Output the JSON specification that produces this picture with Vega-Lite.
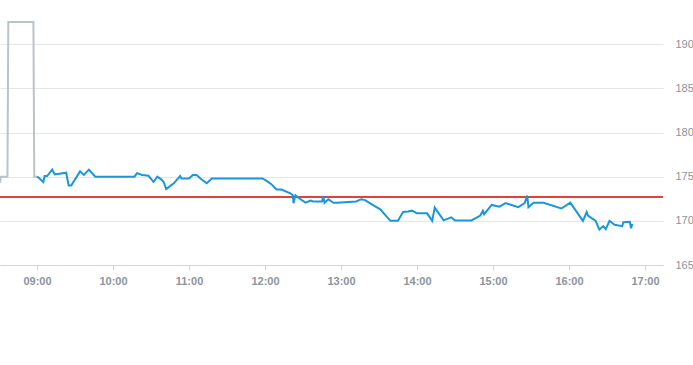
{
  "$schema": "https://vega.github.io/schema/vega-lite/v6.json",
  "width": 663,
  "height": 265,
  "autosize": "none",
  "padding": {"left": 0, "top": 0, "right": 30, "bottom": 100},
  "background": "white",
  "config": {"view": {"stroke": null}},
  "data": {
    "values": [
      {"t": "2024-01-01T08:30:47", "v": 174.3, "s": "pre"},
      {"t": "2024-01-01T08:31:30", "v": 175.0, "s": "pre"},
      {"t": "2024-01-01T08:36:40", "v": 175.0, "s": "pre"},
      {"t": "2024-01-01T08:37:20", "v": 192.5, "s": "pre"},
      {"t": "2024-01-01T08:57:10", "v": 192.5, "s": "pre"},
      {"t": "2024-01-01T08:57:50", "v": 175.0, "s": "pre"},
      {"t": "2024-01-01T09:00:00", "v": 175.0, "s": "pre"},
      {"t": "2024-01-01T09:00:00", "v": 175.0, "s": "main"},
      {"t": "2024-01-01T09:02:00", "v": 174.8, "s": "main"},
      {"t": "2024-01-01T09:05:00", "v": 174.4, "s": "main"},
      {"t": "2024-01-01T09:06:00", "v": 175.07, "s": "main"},
      {"t": "2024-01-01T09:08:00", "v": 175.07, "s": "main"},
      {"t": "2024-01-01T09:12:00", "v": 175.8, "s": "main"},
      {"t": "2024-01-01T09:14:00", "v": 175.25, "s": "main"},
      {"t": "2024-01-01T09:23:00", "v": 175.45, "s": "main"},
      {"t": "2024-01-01T09:25:00", "v": 174.0, "s": "main"},
      {"t": "2024-01-01T09:27:00", "v": 174.0, "s": "main"},
      {"t": "2024-01-01T09:34:00", "v": 175.6, "s": "main"},
      {"t": "2024-01-01T09:37:00", "v": 175.2, "s": "main"},
      {"t": "2024-01-01T09:41:00", "v": 175.8, "s": "main"},
      {"t": "2024-01-01T09:46:00", "v": 175.0, "s": "main"},
      {"t": "2024-01-01T10:17:00", "v": 175.0, "s": "main"},
      {"t": "2024-01-01T10:19:00", "v": 175.4, "s": "main"},
      {"t": "2024-01-01T10:23:00", "v": 175.2, "s": "main"},
      {"t": "2024-01-01T10:28:00", "v": 175.1, "s": "main"},
      {"t": "2024-01-01T10:32:00", "v": 174.4, "s": "main"},
      {"t": "2024-01-01T10:35:00", "v": 175.0, "s": "main"},
      {"t": "2024-01-01T10:38:00", "v": 174.7, "s": "main"},
      {"t": "2024-01-01T10:40:00", "v": 174.4, "s": "main"},
      {"t": "2024-01-01T10:42:00", "v": 173.6, "s": "main"},
      {"t": "2024-01-01T10:48:00", "v": 174.25, "s": "main"},
      {"t": "2024-01-01T10:53:00", "v": 175.07, "s": "main"},
      {"t": "2024-01-01T10:54:00", "v": 174.8, "s": "main"},
      {"t": "2024-01-01T11:00:00", "v": 174.8, "s": "main"},
      {"t": "2024-01-01T11:03:00", "v": 175.2, "s": "main"},
      {"t": "2024-01-01T11:06:00", "v": 175.2, "s": "main"},
      {"t": "2024-01-01T11:09:00", "v": 174.8, "s": "main"},
      {"t": "2024-01-01T11:14:00", "v": 174.25, "s": "main"},
      {"t": "2024-01-01T11:18:00", "v": 174.8, "s": "main"},
      {"t": "2024-01-01T11:58:00", "v": 174.8, "s": "main"},
      {"t": "2024-01-01T12:01:00", "v": 174.55, "s": "main"},
      {"t": "2024-01-01T12:05:00", "v": 174.15, "s": "main"},
      {"t": "2024-01-01T12:09:00", "v": 173.55, "s": "main"},
      {"t": "2024-01-01T12:13:00", "v": 173.55, "s": "main"},
      {"t": "2024-01-01T12:20:00", "v": 173.1, "s": "main"},
      {"t": "2024-01-01T12:22:00", "v": 172.9, "s": "main"},
      {"t": "2024-01-01T12:22:30", "v": 172.0, "s": "main"},
      {"t": "2024-01-01T12:24:00", "v": 172.9, "s": "main"},
      {"t": "2024-01-01T12:28:00", "v": 172.45, "s": "main"},
      {"t": "2024-01-01T12:32:00", "v": 172.05, "s": "main"},
      {"t": "2024-01-01T12:36:00", "v": 172.3, "s": "main"},
      {"t": "2024-01-01T12:38:00", "v": 172.2, "s": "main"},
      {"t": "2024-01-01T12:45:00", "v": 172.2, "s": "main"},
      {"t": "2024-01-01T12:46:00", "v": 172.8, "s": "main"},
      {"t": "2024-01-01T12:47:00", "v": 172.05, "s": "main"},
      {"t": "2024-01-01T12:50:00", "v": 172.45, "s": "main"},
      {"t": "2024-01-01T12:54:00", "v": 172.05, "s": "main"},
      {"t": "2024-01-01T12:57:00", "v": 172.05, "s": "main"},
      {"t": "2024-01-01T13:12:00", "v": 172.2, "s": "main"},
      {"t": "2024-01-01T13:16:00", "v": 172.45, "s": "main"},
      {"t": "2024-01-01T13:19:00", "v": 172.35, "s": "main"},
      {"t": "2024-01-01T13:25:00", "v": 171.8, "s": "main"},
      {"t": "2024-01-01T13:31:00", "v": 171.3, "s": "main"},
      {"t": "2024-01-01T13:39:00", "v": 170.0, "s": "main"},
      {"t": "2024-01-01T13:45:00", "v": 170.0, "s": "main"},
      {"t": "2024-01-01T13:49:00", "v": 171.0, "s": "main"},
      {"t": "2024-01-01T13:53:00", "v": 171.05, "s": "main"},
      {"t": "2024-01-01T13:56:00", "v": 171.15, "s": "main"},
      {"t": "2024-01-01T14:00:00", "v": 170.85, "s": "main"},
      {"t": "2024-01-01T14:08:00", "v": 170.85, "s": "main"},
      {"t": "2024-01-01T14:12:00", "v": 170.0, "s": "main"},
      {"t": "2024-01-01T14:14:00", "v": 171.5, "s": "main"},
      {"t": "2024-01-01T14:21:00", "v": 170.05, "s": "main"},
      {"t": "2024-01-01T14:27:00", "v": 170.4, "s": "main"},
      {"t": "2024-01-01T14:30:00", "v": 170.05, "s": "main"},
      {"t": "2024-01-01T14:43:00", "v": 170.05, "s": "main"},
      {"t": "2024-01-01T14:50:00", "v": 170.6, "s": "main"},
      {"t": "2024-01-01T14:52:00", "v": 171.15, "s": "main"},
      {"t": "2024-01-01T14:53:00", "v": 170.75, "s": "main"},
      {"t": "2024-01-01T14:59:00", "v": 171.8, "s": "main"},
      {"t": "2024-01-01T15:05:00", "v": 171.6, "s": "main"},
      {"t": "2024-01-01T15:10:00", "v": 172.0, "s": "main"},
      {"t": "2024-01-01T15:20:00", "v": 171.55, "s": "main"},
      {"t": "2024-01-01T15:25:00", "v": 172.0, "s": "main"},
      {"t": "2024-01-01T15:27:00", "v": 172.85, "s": "main"},
      {"t": "2024-01-01T15:28:00", "v": 171.55, "s": "main"},
      {"t": "2024-01-01T15:32:00", "v": 172.05, "s": "main"},
      {"t": "2024-01-01T15:40:00", "v": 172.05, "s": "main"},
      {"t": "2024-01-01T15:54:00", "v": 171.4, "s": "main"},
      {"t": "2024-01-01T16:01:00", "v": 172.05, "s": "main"},
      {"t": "2024-01-01T16:11:00", "v": 170.0, "s": "main"},
      {"t": "2024-01-01T16:14:00", "v": 171.0, "s": "main"},
      {"t": "2024-01-01T16:15:00", "v": 170.6, "s": "main"},
      {"t": "2024-01-01T16:21:00", "v": 170.0, "s": "main"},
      {"t": "2024-01-01T16:24:00", "v": 169.0, "s": "main"},
      {"t": "2024-01-01T16:27:00", "v": 169.4, "s": "main"},
      {"t": "2024-01-01T16:29:00", "v": 169.05, "s": "main"},
      {"t": "2024-01-01T16:32:00", "v": 170.0, "s": "main"},
      {"t": "2024-01-01T16:36:00", "v": 169.55, "s": "main"},
      {"t": "2024-01-01T16:42:00", "v": 169.4, "s": "main"},
      {"t": "2024-01-01T16:43:00", "v": 169.85, "s": "main"},
      {"t": "2024-01-01T16:48:00", "v": 169.9, "s": "main"},
      {"t": "2024-01-01T16:49:00", "v": 169.15, "s": "main"},
      {"t": "2024-01-01T16:50:00", "v": 169.65, "s": "main"}
    ]
  },
  "layer": [
    {
      "mark": {"type": "rule", "color": "#e0443c", "strokeWidth": 1},
      "encoding": {"y": {"datum": 172.75, "type": "quantitative"}}
    },
    {
      "mark": {"type": "line", "strokeWidth": 2},
      "encoding": {
        "x": {
          "field": "t",
          "type": "temporal",
          "scale": {
            "domain": [
              {"year": 2024, "month": 1, "date": 1, "hours": 8, "minutes": 30, "seconds": 47},
              {"year": 2024, "month": 1, "date": 1, "hours": 17, "minutes": 14, "seconds": 13}
            ],
            "nice": false
          },
          "axis": {
            "title": null,
            "format": "%H:%M",
            "values": [
              {"year": 2024, "month": 1, "date": 1, "hours": 9},
              {"year": 2024, "month": 1, "date": 1, "hours": 10},
              {"year": 2024, "month": 1, "date": 1, "hours": 11},
              {"year": 2024, "month": 1, "date": 1, "hours": 12},
              {"year": 2024, "month": 1, "date": 1, "hours": 13},
              {"year": 2024, "month": 1, "date": 1, "hours": 14},
              {"year": 2024, "month": 1, "date": 1, "hours": 15},
              {"year": 2024, "month": 1, "date": 1, "hours": 16},
              {"year": 2024, "month": 1, "date": 1, "hours": 17}
            ],
            "grid": false,
            "domainColor": "#ccd6eb",
            "tickColor": "#ccd6eb",
            "tickSize": 5,
            "labelPadding": 5,
            "labelFont": "Liberation Sans",
            "labelFontSize": 11,
            "labelFontWeight": "bold",
            "labelColor": "#8c949e",
            "labelFlush": false
          }
        },
        "y": {
          "field": "v",
          "type": "quantitative",
          "scale": {"domain": [165, 195], "nice": false, "zero": false},
          "axis": {
            "title": null,
            "orient": "right",
            "values": [165, 170, 175, 180, 185, 190],
            "grid": true,
            "gridColor": "#e6e6e6",
            "domain": false,
            "ticks": false,
            "labelPadding": 12,
            "labelFont": "Liberation Sans",
            "labelFontSize": 11,
            "labelColor": "#8a939c"
          }
        },
        "color": {
          "field": "s",
          "type": "nominal",
          "scale": {"domain": ["pre", "main"], "range": ["#b7c4cc", "#1a96dd"]},
          "legend": null
        }
      }
    }
  ]
}
